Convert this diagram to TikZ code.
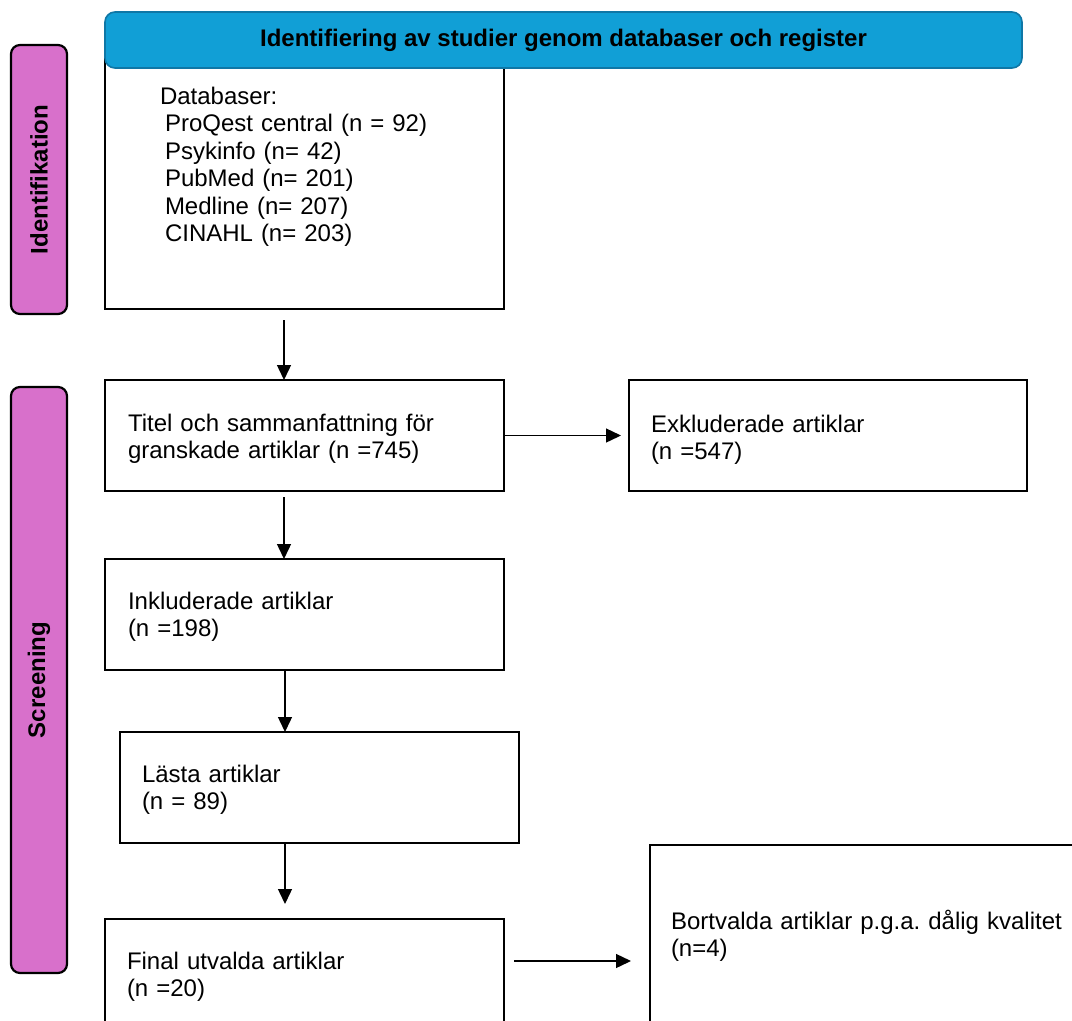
\documentclass[tikz,border=0pt]{standalone}
\usepackage{fontspec}
\setmainfont{Liberation Sans}
\usetikzlibrary{arrows.meta}
\definecolor{hdrfill}{HTML}{119FD6}
\definecolor{hdrline}{HTML}{0F77A6}
\definecolor{phasefill}{HTML}{D870CB}
\frenchspacing
\begin{document}
\begin{tikzpicture}[x=1pt,y=-1pt,
  box/.style={draw=black,line width=2pt,fill=white,rectangle,inner sep=0pt,outer sep=0pt,anchor=north west},
  hdr/.style={draw=hdrline,line width=1.6pt,fill=hdrfill,rounded corners=10pt,rectangle,inner sep=0pt,outer sep=0pt,anchor=north west},
  phase/.style={draw=black,line width=2.2pt,fill=phasefill,rounded corners=9pt,rectangle,inner sep=0pt,outer sep=0pt,anchor=north west},
  txt/.style={anchor=base west,inner sep=0pt,outer sep=0pt,align=left,text width=430pt,font=\fontsize{24}{27.5}\selectfont},
  bold/.style={inner sep=0pt,font=\fontsize{24}{28}\selectfont\bfseries},
  arr/.style={line width=1.4pt,-{Triangle[length=15pt,width=14pt]}}]
\useasboundingbox (0,0) rectangle (1072,1021);
\clip (0,0) rectangle (1072,1021);

% phase bars
\node[phase,minimum width=56pt,minimum height=269pt] (ph1) at (11,45) {};
\node[bold,rotate=90] (ph1t) at (ph1.center) {Identifikation};
\node[phase,minimum width=56pt,minimum height=586pt] (ph2) at (11,387) {};
\node[bold,rotate=90] (ph2t) at (ph2.center) {Screening};

% boxes
\node[box,minimum width=399pt,minimum height=262pt] (db) at (105,47) {};
\node[hdr,minimum width=917pt,minimum height=56pt] (hdr) at (105,12) {};
\node[bold] (hdrt) at (hdr.center) {Identifiering av studier genom databaser och register};

\node[box,minimum width=399pt,minimum height=111pt] (tit) at (105,380) {};
\node[box,minimum width=398pt,minimum height=111pt] (exk) at (629,380) {};
\node[box,minimum width=399pt,minimum height=111pt] (inkl) at (105,559) {};
\node[box,minimum width=399pt,minimum height=111pt] (lasta) at (120,732) {};
\node[box,minimum width=399pt,minimum height=130pt] (final) at (105,919) {};
\node[box,minimum width=440pt,minimum height=200pt] (bort) at (650,845) {};

% texts
\node[txt] (dbt) at (160,104) {Databaser:\\
\hspace*{5pt}ProQest central (n = 92)\\
\hspace*{5pt}Psykinfo (n= 42)\\
\hspace*{5pt}PubMed (n= 201)\\
\hspace*{5pt}Medline (n= 207)\\
\hspace*{5pt}CINAHL (n= 203)};
\node[txt] (titt) at (128,431) {Titel och sammanfattning för\\granskade artiklar (n =745)};
\node[txt] (exkt) at (651,432) {Exkluderade artiklar\\(n =547)};
\node[txt] (inklt) at (128,609) {Inkluderade artiklar\\(n =198)};
\node[txt] (lastat) at (142,782) {Lästa artiklar\\(n = 89)};
\node[txt] (finalt) at (127,969) {Final utvalda artiklar\\(n =20)};
\node[txt] (bortt) at (671,929) {Bortvalda artiklar p.g.a. dålig kvalitet\\(n=4)};

% connectors
\coordinate (a1s) at (284,320);
\coordinate (a2s) at (284,497);
\coordinate (ax) at (285,0);
\coordinate (a4e) at (285,904);
\coordinate (exa) at (621,0);
\coordinate (a5s) at (514,961);
\coordinate (a5e) at (631,961);
\draw[arr] (a1s) -- (a1s |- tit.north);
\draw[arr] (a2s) -- (a2s |- inkl.north);
\draw[arr] (inkl.south -| ax) -- (lasta.north -| ax);
\draw[arr] (lasta.south -| a4e) -- (a4e);
\draw[arr] (tit.east) -- (tit.east -| exa);
\draw[arr] (a5s) -- (a5e);
\end{tikzpicture}
\end{document}
